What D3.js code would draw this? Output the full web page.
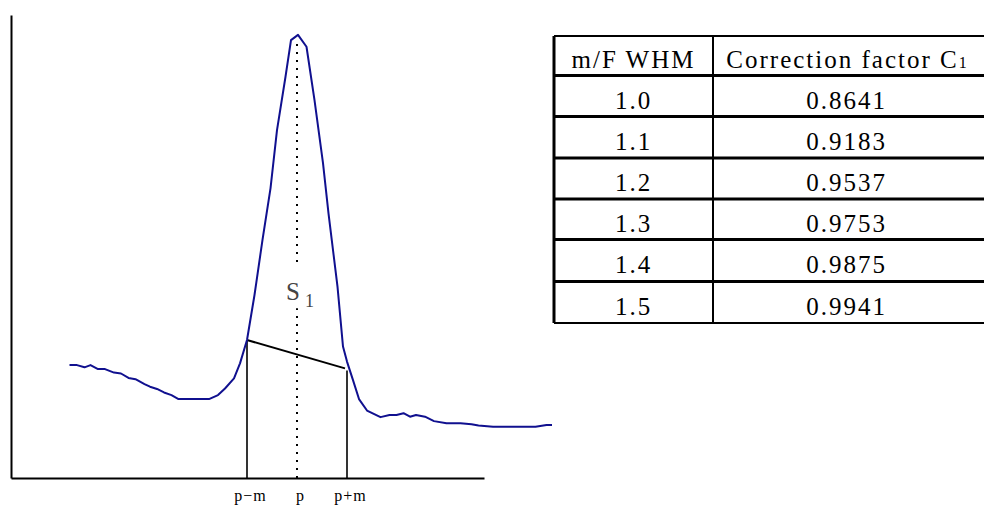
<!DOCTYPE html>
<html>
<head>
<meta charset="utf-8">
<script src="https://cdn.jsdelivr.net/npm/d3@7"></script>
<style>
  body { margin: 0; background: #fff; }
  svg { display: block; }
</style>
</head>
<body>
<div id="chart"></div>
<script>
// Spectrum (channel, counts)
const channels = [4.5, 6.0, 7.5, 8.7, 10.2, 11.6, 13.4, 14.8, 16.3, 17.7, 19.5, 20.6, 22.0, 23.4, 24.9, 26.3,
  32.4, 34.2, 35.6, 37.4, 38.6, 40.0, 41.5, 43.1, 44.7, 46.0, 47.7, 48.8, 50.2, 51.9, 53.5, 55.2,
  56.3, 58.1, 59.2, 60.0, 61.2, 62.4, 64.0, 66.7, 68.5, 69.9, 71.3, 72.6, 73.8, 75.6, 77.4, 79.9,
  82.7, 84.9, 86.3, 89.2, 97.7, 99.9, 101.0];
const counts = [256, 256, 251, 256, 247, 247, 239, 237, 227, 224, 213, 207, 202, 194, 188, 179,
  179, 188, 203, 226, 260, 313, 415, 540, 657, 789, 910, 993, 1005, 978, 857, 714,
  600, 434, 298, 264, 222, 179, 153, 138, 143, 143, 147, 139, 143, 139, 129, 124,
  124, 122, 119, 116, 116, 120, 120];

// background chord under the peak, and the window edges
const chordChannels = [40, 60];
const chordCounts = [313, 244];
const xTickChannels = [40, 50, 60];
const xTickLabels = ["p\u2212m", "p", "p+m"];
const peakChannel = 50;

// table
const tableHeader = ["m/F WHM", "Correction factor C"];
const widthRatios = ["1.0", "1.1", "1.2", "1.3", "1.4", "1.5"];
const correctionFactors = ["0.8641", "0.9183", "0.9537", "0.9753", "0.9875", "0.9941"];

const width = 984, height = 506;
const blue = "#10108f";
const serif = "Liberation Serif, Times New Roman, serif";

const svg = d3.select("#chart").append("svg")
  .attr("width", width)
  .attr("height", height);

// scales
const x = d3.scaleLinear().domain([-7.2, 87.4]).range([11, 484]);
const y = d3.scaleLinear().domain([0, 1050]).range([478, 15]);

// axes
const xAxis = d3.axisBottom(x)
  .tickValues(xTickChannels)
  .tickFormat((d, i) => xTickLabels[i])
  .tickSize(0)
  .tickSizeOuter(0)
  .tickPadding(12);
const gx = svg.append("g")
  .attr("transform", `translate(0,${y(0)})`)
  .call(xAxis);
gx.attr("font-family", serif).attr("font-size", 16);
gx.select(".domain").attr("stroke", "#000").attr("stroke-width", 2);
gx.selectAll("text")
  .attr("dx", 3)
  .attr("fill", "#000")
  .style("letter-spacing", "1px");

const yAxis = d3.axisLeft(y).tickValues([]).tickSizeOuter(0);
const gy = svg.append("g")
  .attr("transform", `translate(${x(-7.2)},0)`)
  .call(yAxis);
gy.select(".domain").attr("stroke", "#000").attr("stroke-width", 2);

// dotted peak line, broken around the label
const dotSegments = [[0, 385], [490, 998]];
svg.selectAll("line.peak")
  .data(dotSegments)
  .enter().append("line")
  .attr("class", "peak")
  .attr("x1", x(peakChannel)).attr("x2", x(peakChannel))
  .attr("y1", d => y(d[0])).attr("y2", d => y(d[1]))
  .attr("stroke", "#000")
  .attr("stroke-width", 2)
  .attr("stroke-dasharray", "2,6");

// window edges
svg.selectAll("line.edge")
  .data(chordChannels)
  .enter().append("line")
  .attr("class", "edge")
  .attr("x1", d => x(d)).attr("x2", d => x(d))
  .attr("y1", y(0))
  .attr("y2", (d, i) => y(chordCounts[i]))
  .attr("stroke", "#000")
  .attr("stroke-width", 1.6);

// chord
svg.append("line")
  .attr("x1", x(chordChannels[0])).attr("y1", y(chordCounts[0]))
  .attr("x2", x(chordChannels[1]) - 2).attr("y2", y(chordCounts[1]) - 2)
  .attr("stroke", "#000")
  .attr("stroke-width", 2);

// spectrum
const line = d3.line()
  .x((d, i) => x(channels[i]))
  .y(d => y(d));
svg.append("path")
  .datum(counts)
  .attr("d", line)
  .attr("fill", "none")
  .attr("stroke", blue)
  .attr("stroke-width", 2)
  .attr("stroke-linejoin", "round");

// S1 label
const s1 = svg.append("text")
  .attr("x", x(peakChannel) - 11)
  .attr("y", y(404))
  .attr("fill", "#444")
  .attr("font-family", serif)
  .attr("font-size", 25);
s1.append("tspan").text("S");
s1.append("tspan").attr("dx", 5).attr("dy", 7).attr("font-size", 18).text("1");

// **Table
const rowEdges = [36, 75.5, 116.5, 158, 199, 239.5, 281.5, 323];
const colEdges = [554, 713, 980];
const tbl = svg.append("g")
  .attr("font-family", serif)
  .attr("font-size", 25)
  .style("letter-spacing", "2px");

// horizontal rules
tbl.selectAll("line.h")
  .data(rowEdges)
  .enter().append("line")
  .attr("x1", colEdges[0]).attr("x2", width)
  .attr("y1", d => d).attr("y2", d => d)
  .attr("stroke", "#000")
  .attr("stroke-width", (d, i) => (i === 0 || i === rowEdges.length - 1) ? 2 : 3);
// vertical rules
tbl.selectAll("line.v")
  .data(colEdges.slice(0, 2))
  .enter().append("line")
  .attr("x1", d => d).attr("x2", d => d)
  .attr("y1", rowEdges[0]).attr("y2", rowEdges[rowEdges.length - 1])
  .attr("stroke", "#000")
  .attr("stroke-width", (d, i) => i === 0 ? 3 : 2);

const colCenter = i => (colEdges[i] + colEdges[i + 1]) / 2;

// header
const head = tbl.append("g");
head.append("text")
  .attr("x", colCenter(0)).attr("y", rowEdges[0] + 32)
  .attr("text-anchor", "middle")
  .text(tableHeader[0]);
const h2 = head.append("text")
  .attr("x", colCenter(1)).attr("y", rowEdges[0] + 32)
  .attr("text-anchor", "middle");
h2.append("tspan").text(tableHeader[1]);
h2.append("tspan").attr("font-size", 16).style("letter-spacing", "0px").text("1");

// body rows
const rows = tbl.selectAll("g.row")
  .data(widthRatios)
  .enter().append("g")
  .attr("class", "row");
rows.append("text")
  .attr("x", colCenter(0))
  .attr("y", (d, i) => rowEdges[i + 1] + 33)
  .attr("text-anchor", "middle")
  .text(d => d);
rows.append("text")
  .attr("x", colCenter(1))
  .attr("y", (d, i) => rowEdges[i + 1] + 33)
  .attr("text-anchor", "middle")
  .text((d, i) => correctionFactors[i]);
</script>
</body>
</html>
